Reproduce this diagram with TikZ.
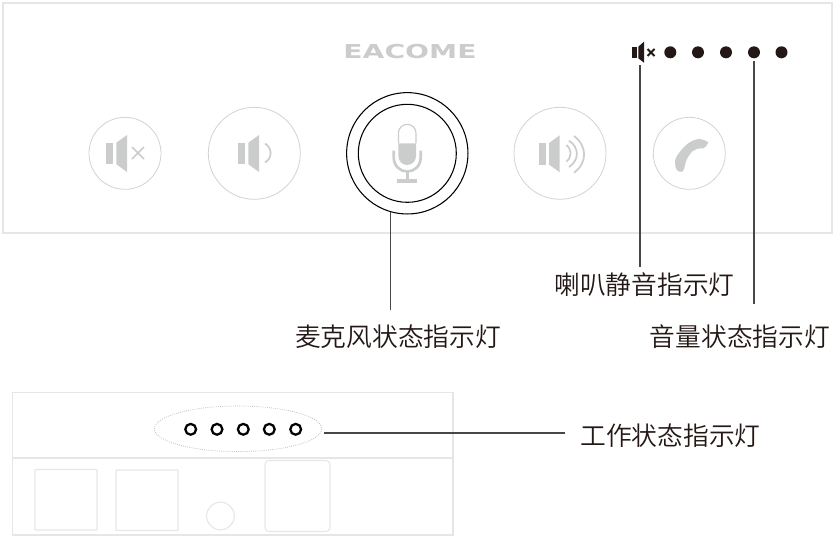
\documentclass[tikz,border=0pt]{standalone}
\usepackage{fontspec}
\newfontfamily\cjk[UprightFont=* DemiLight]{Noto Sans CJK SC}
\newfontfamily\logofont{DejaVu Sans}
\definecolor{icongrey}{HTML}{CBCDCC}
\definecolor{ringgrey}{HTML}{D2D2D2}
\definecolor{framegrey}{HTML}{E6E6E6}
\definecolor{dotgrey}{HTML}{BDBDBD}
\definecolor{leaddark}{HTML}{4A4645}
\definecolor{leddark}{HTML}{231815}
\definecolor{captiondark}{HTML}{231815}
\tikzset{
  x=0.75pt,y=-0.75pt,
  btn/.style={circle,draw=ringgrey,line width=0.6pt,inner sep=0pt,fill=none},
  ringblack/.style={circle,draw=black,line width=0.8pt,inner sep=0pt},
  frameline/.style={draw=framegrey,line width=0.8pt},
  lead/.style={draw=leaddark,line width=1pt},
  led/.style={circle,fill=leddark,inner sep=0pt,minimum size=9pt},
  ringled/.style={circle,draw=black,line width=1.7pt,inner sep=0pt,minimum size=8.1pt},
  caption/.style={font=\cjk\fontsize{19.3pt}{22pt}\selectfont,text=captiondark,inner sep=0pt},
  waves/.style={draw=icongrey,line width=1.3pt,fill=none},
}
\newcommand{\speakericon}[3]{% x y colour
  \fill[#3] (#1-19,#2-10.7) rectangle (#1-11.7,#2+10.7);
  \fill[#3] (#1-8.7,#2-10.7) -- (#1+2,#2-18.5) -- (#1+2,#2+18.5) -- (#1-8.7,#2+10.7) -- cycle;
}
\begin{document}
\begin{tikzpicture}
\useasboundingbox (0,0) rectangle (836,536);
% top panel
\draw[frameline] (3,3) rectangle (832,233);
\node[inner sep=0pt,text=icongrey] (logo) at (410,51.3) {\scalebox{1.47}[1]{\logofont\bfseries\fontsize{14.4pt}{16pt}\selectfont EACOME}};
% small indicators
\fill[leddark] (632.3,46.7) rectangle (637.3,58.3);
\fill[leddark] (638.3,46.7) -- (644,41.7) -- (644,62.7) -- (638.3,58.3) -- cycle;
\draw[leddark,line width=1.5pt] (647.5,49) -- (654.5,56) (654.5,49) -- (647.5,56);
\node[led] (d1) at (670.3,52.3) {};
\node[led] (d2) at (698,52.3) {};
\node[led] (d3) at (726,52.3) {};
\node[led] (d4) at (754,52.3) {};
\node[led] (d5) at (781.5,52.3) {};
\coordinate (spk) at (640,65);
% mute button
\node[btn,minimum size=54pt] (b1) at (125,153.3) {};
\speakericon{125}{153.5}{icongrey}
\draw[icongrey,line width=1.1pt] (132,147) -- (144,159) (144,147) -- (132,159);
% low volume
\node[btn,minimum size=69pt] (b2) at (254.3,153.3) {};
\speakericon{257}{153.5}{icongrey}
\draw[waves] (265,143.5) .. controls (272.5,148) and (272.5,158) .. (265,162.5);
% mic
\node[ringblack,minimum size=91pt] (m1) at (407.3,153.3) {};
\node[ringblack,minimum size=73.5pt] (m2) at (407.3,153.3) {};
\fill[icongrey] (398.4,143.3) -- (416,143.3) -- (416,156.2) arc[start angle=0,end angle=180,radius=8.8] -- cycle;
\draw[icongrey,line width=0.9pt] (398.4,143.3) -- (398.4,133.1) arc[start angle=180,end angle=360,radius=8.8] -- (416,143.3);
\draw[icongrey,line width=2pt] (393.7,150.7) -- (393.7,157) .. controls (393.7,166) and (400,171.5) .. (407.2,171.5) .. controls (414.5,171.5) and (420.7,166) .. (420.7,157) -- (420.7,150.7);
\fill[icongrey] (405.7,171) rectangle (408.7,180);
\fill[icongrey] (397.3,179) rectangle (417.3,182.7);
% high volume
\node[btn,minimum size=69pt] (b3) at (560,153.3) {};
\speakericon{557.7}{153.8}{icongrey}
\draw[waves] (566.3,145) .. controls (572,149.5) and (572,157) .. (566.3,161.7);
\draw[waves] (569,140.7) .. controls (579.5,147.5) and (579.5,160) .. (569,167);
\draw[waves] (574,136) .. controls (587.5,146) and (587.5,163) .. (574,172.7);
% phone
\node[btn,minimum size=54pt] (b4) at (689.3,153.3) {};
\fill[icongrey] (708.3,142.3) .. controls (705,140) and (701,139) .. (698.3,139) .. controls (691,140) and (685,145) .. (680,151.7) .. controls (677,155) and (675,159) .. (675,162) .. controls (675,165) and (675.5,168) .. (676.7,170) .. controls (678,171.5) and (681,172.5) .. (682.7,171.7) .. controls (684,170) and (684.5,167) .. (685,165) .. controls (686,161) and (687,158) .. (689.3,155) .. controls (691,152) and (693.5,150) .. (696.7,149) .. controls (699,148.2) and (701,148.5) .. (703.3,148.3) .. controls (705.5,147.5) and (707.5,145) .. (708.3,142.3) -- cycle;
% leaders
\coordinate (micend) at (390.5,310);
\coordinate (micstart) at (390.5,212);
\draw[lead] (micstart) -- (micend);
\coordinate (spkend) at (640,267);
\draw[lead] (spk) -- (spkend);
\coordinate (volstart) at (754,61);
\coordinate (volend) at (754,304);
\draw[lead] (volstart) -- (volend);
% captions
\node[caption] (c1) at (398,337) {麦克风状态指示灯};
\node[caption] (c2) at (644.5,285) {喇叭静音指示灯};
\node[caption] (c3) at (740,337) {音量状态指示灯};
\node[caption] (c4) at (670.5,436) {工作状态指示灯};
% lower panel
\draw[frameline] (12.5,392.5) rectangle (453,535);
\draw[frameline] (12.5,458) -- (453,458);
\draw[frameline,rounded corners=0.5pt] (35,469.5) rectangle (97,530);
\draw[frameline,rounded corners=0.5pt] (116,470) rectangle (178,530.5);
\node[circle,frameline,inner sep=0pt,minimum size=20.8pt] (hole) at (220.5,516) {};
\draw[frameline,rounded corners=3pt] (265,460.5) rectangle (330,531.5);
\draw[dotgrey,densely dotted,line width=0.6pt] (238,428.8) ellipse [x radius=83.7,y radius=22.8];
\node[ringled] (r1) at (190.7,429.3) {};
\node[ringled] (r2) at (217,429.3) {};
\node[ringled] (r3) at (243.3,429.3) {};
\node[ringled] (r4) at (269.3,429.3) {};
\node[ringled] (r5) at (295.7,429.3) {};
\coordinate (ls) at (324,433);
\coordinate (le) at (565,433);
\draw[lead] (ls) -- (le);
\end{tikzpicture}
\end{document}
